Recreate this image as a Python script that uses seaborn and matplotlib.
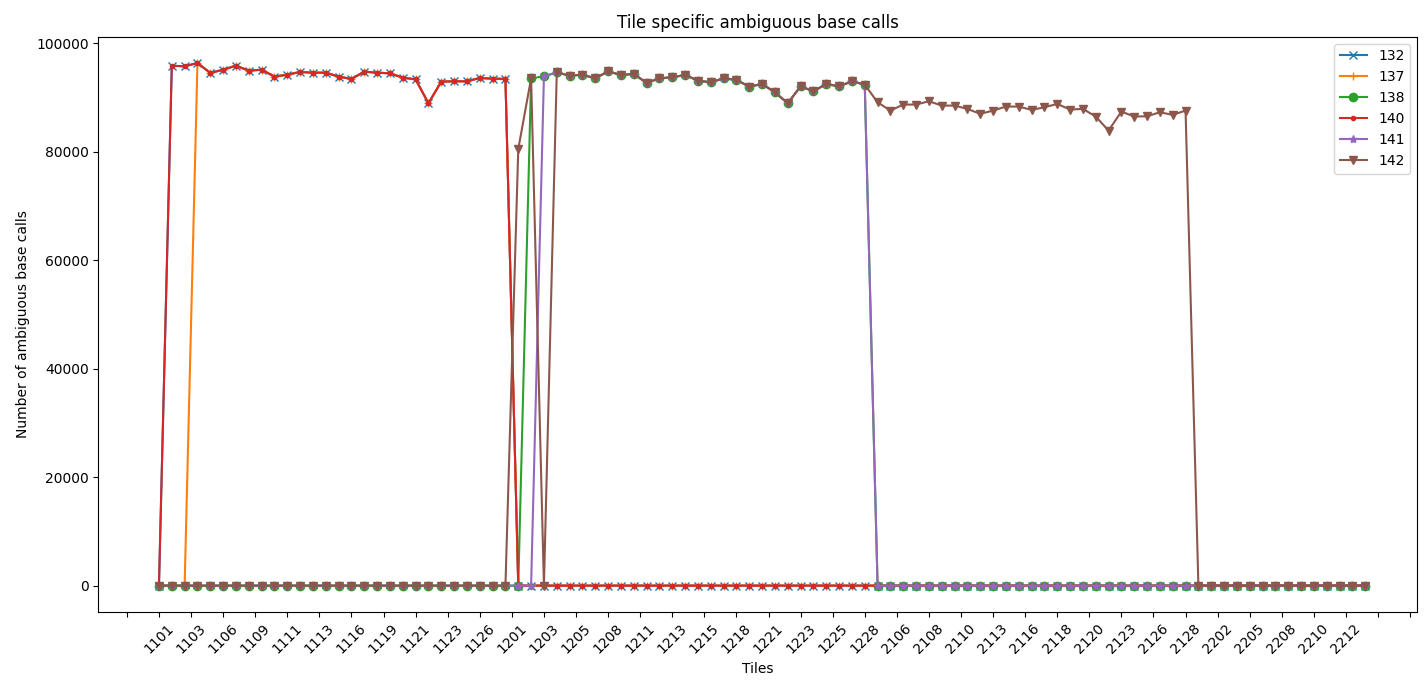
import matplotlib
matplotlib.use("Agg")
import matplotlib.pyplot as plt
import seaborn as sns
from matplotlib.ticker import MultipleLocator

# ---- Tiles (x categories) ----
tiles = ([str(t) for t in range(1101, 1129)] +
         [str(t) for t in range(1201, 1229)] +
         [str(t) for t in range(2104, 2129)] +
         [str(t) for t in range(2201, 2215)])

# ---- Values ----
lane1 = [95860, 95730, 96360, 94520, 95120, 95860, 94940, 95120, 93840,
         94200, 94700, 94570, 94570, 93840, 93410, 94760, 94570, 94450,
         93650, 93340, 88930, 92920, 92980, 92980, 93590, 93470, 93410]
lane2 = [94630, 94020, 94200, 93530, 94810, 94150, 94330, 92680, 93530,
         93710, 94150, 93100, 92790, 93530, 93230, 92000, 92490, 90950,
         88930, 92050, 91130, 92490, 92050, 92980, 92370]
lane3 = [89110, 87580, 88690, 88690, 89300, 88500, 88500, 87890, 86980,
         87580, 88320, 88320, 87710, 88190, 88810, 87770, 87890, 86480,
         83900, 87400, 86480, 86530, 87270, 86790, 87580]

s132 = [0] + lane1 + [0] * 67
s137 = [0, 0, 0] + lane1[2:] + [0] * 67
s138 = [0] * 29 + [93530, 93890] + lane2 + [0] * 39
s140 = [0] + lane1 + [0] * 67
s141 = [0] * 30 + [93890] + lane2 + [0] * 39
s142 = [0] * 28 + [80500, 93530, 0] + lane2 + lane3 + [0] * 14

series = {"132": s132, "137": s137, "138": s138,
          "140": s140, "141": s141, "142": s142}
markers = {"132": "x", "137": "+", "138": "o", "140": ".", "141": "*", "142": "v"}
colors = sns.color_palette("tab10", 6)

# ---- Plot ----
fig, ax = plt.subplots(figsize=(14.26, 6.82), dpi=100)
for (name, vals), col in zip(series.items(), colors):
    sns.lineplot(x=tiles, y=vals, marker=markers[name], color=col, label=name,
                 markeredgecolor=col, markeredgewidth=1, markersize=6,
                 linewidth=1.5, sort=False, errorbar=None, ax=ax)

ax.xaxis.set_major_locator(MultipleLocator(2.5))
ax.set_xlim(-4.72, 98.07)
plt.xticks(rotation=45)
ax.set_title("Tile specific ambiguous base calls")
ax.set_xlabel("Tiles")
ax.set_ylabel("Number of ambiguous base calls")
ax.legend(loc="upper right")

fig.subplots_adjust(left=0.069, right=0.994, top=0.946, bottom=0.103)
fig.savefig("out.png", dpi=100)
